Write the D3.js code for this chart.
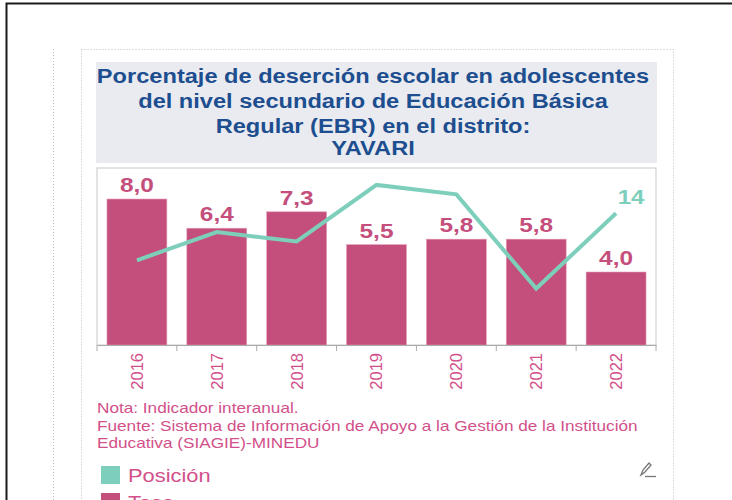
<!DOCTYPE html>
<html>
<head>
<meta charset="utf-8">
<script src="https://cdn.jsdelivr.net/npm/d3@7"></script>
<style>
  body { margin: 0; background: #fff; }
  svg { display: block; font-family: "Liberation Sans", Arial, sans-serif; }
</style>
</head>
<body>
<div id="chart"></div>
<script>
const years = ["2016", "2017", "2018", "2019", "2020", "2021", "2022"];
const tasa = [8.0, 6.4, 7.3, 5.5, 5.8, 5.8, 4.0];
const posicion = [9, 12, 11, 17, 16, 6, 14];
const titleLines = [
  "Porcentaje de deserción escolar en adolescentes",
  "del nivel secundario de Educación Básica",
  "Regular (EBR) en el distrito:",
  "YAVARI"
];
const notes = [
  "Nota: Indicador interanual.",
  "Fuente: Sistema de Información de Apoyo a la Gestión de la Institución",
  "Educativa (SIAGIE)-MINEDU"
];
const legendItems = ["Posición", "Tasa"];

const data = years.map((y, i) => ({year: y, tasa: tasa[i], pos: posicion[i]}));

// the original text is drawn a bit wider than Arial
function stretch(sel, k) {
  sel.each(function() {
    const len = this.getComputedTextLength();
    d3.select(this)
      .attr("textLength", len * k)
      .attr("lengthAdjust", "spacingAndGlyphs");
  });
}

const W = 732, H = 500;
const svg = d3.select("#chart").append("svg")
  .attr("width", W)
  .attr("height", H);

// page frame + dotted containers
svg.append("rect")
  .attr("x", 6.5).attr("y", 3.5)
  .attr("width", 800).attr("height", 600)
  .attr("fill", "none").attr("stroke", "#1a1a1a").attr("stroke-width", 2);
svg.append("line")
  .attr("x1", 53.5).attr("x2", 53.5).attr("y1", 49).attr("y2", H)
  .attr("stroke", "#bbb").attr("stroke-dasharray", "1,2");
svg.append("rect")
  .attr("x", 81.5).attr("y", 49.5)
  .attr("width", 592).attr("height", 600)
  .attr("fill", "none").attr("stroke", "#bbb").attr("stroke-dasharray", "1,2");

// title box
svg.append("rect")
  .attr("x", 96).attr("y", 62)
  .attr("width", 561).attr("height", 101)
  .attr("fill", "#e9ebf0");
svg.append("g").selectAll("text")
  .data(titleLines)
  .join("text")
  .attr("x", 373)
  .attr("y", (d, i) => [83, 108, 133, 155][i])
  .attr("text-anchor", "middle")
  .attr("font-size", 20)
  .attr("font-weight", "bold")
  .attr("fill", "#1d4e8f")
  .text(d => d)
  .call(stretch, 1.18);

// plot
const margin = {top: 168, left: 97, right: 76, bottom: 155};
const width = W - margin.left - margin.right;
const height = H - margin.top - margin.bottom;

const g = svg.append("g")
  .attr("transform", `translate(${margin.left},${margin.top})`);

g.append("rect")
  .attr("x", 0).attr("y", 0)
  .attr("width", width).attr("height", height)
  .attr("fill", "#fff").attr("stroke", "#c8c8c8");

const x = d3.scaleBand()
  .domain(years)
  .range([0, width])
  .paddingInner(0.25)
  .paddingOuter(0.125);

const y = d3.scaleLinear()
  .domain([0, 9.7])
  .range([height, 0]);

const y2 = d3.scaleLinear()
  .domain([0, 18.8])
  .range([height, 0]);

// bars
g.selectAll(".bar")
  .data(data)
  .join("rect")
  .attr("class", "bar")
  .attr("x", d => x(d.year))
  .attr("y", d => y(d.tasa))
  .attr("width", x.bandwidth())
  .attr("height", d => height - y(d.tasa))
  .attr("fill", "#c44e7c")
  .attr("stroke", "#e59ab8")
  .attr("stroke-width", 0.6);

g.selectAll(".bar-label")
  .data(data)
  .join("text")
  .attr("class", "bar-label")
  .attr("x", d => x(d.year) + x.bandwidth() / 2)
  .attr("y", d => y(d.tasa) - 7)
  .attr("text-anchor", "middle")
  .attr("font-size", 20)
  .attr("font-weight", "bold")
  .attr("fill", "#c44e7c")
  .text(d => d.tasa.toFixed(1).replace(".", ","))
  .call(stretch, 1.22);

// line
const line = d3.line()
  .x(d => x(d.year) + x.bandwidth() / 2)
  .y(d => y2(d.pos));

g.append("path")
  .datum(data)
  .attr("d", line)
  .attr("fill", "none")
  .attr("stroke", "#7dcfbc")
  .attr("stroke-width", 4)
  .attr("stroke-linejoin", "miter");

const last = data[data.length - 1];
g.append("text")
  .attr("x", x(last.year) + x.bandwidth() / 2 + 15)
  .attr("y", y2(last.pos) - 9)
  .attr("text-anchor", "middle")
  .attr("font-size", 20)
  .attr("font-weight", "bold")
  .attr("fill", "#7dcfbc")
  .text(last.pos)
  .call(stretch, 1.2);

// x axis
const xAxis = g.append("g")
  .attr("transform", `translate(0,${height})`)
  .call(d3.axisBottom(x).tickSize(0).tickPadding(0));
xAxis.select(".domain").attr("stroke", "#aaa");
xAxis.selectAll("text")
  .attr("transform", "rotate(-90)")
  .attr("x", -8)
  .attr("y", 0)
  .attr("dy", "0.36em")
  .style("text-anchor", "end")
  .attr("font-size", 16.5)
  .attr("font-family", "Liberation Sans, Arial, sans-serif")
  .attr("fill", "#d2508a");
// boundary ticks
g.append("g")
  .selectAll("line")
  .data(d3.range(years.length + 1))
  .join("line")
  .attr("x1", i => i * x.step())
  .attr("x2", i => i * x.step())
  .attr("y1", height)
  .attr("y2", height + 6)
  .attr("stroke", "#aaa");

// notes
svg.append("g").selectAll("text")
  .data(notes)
  .join("text")
  .attr("x", 97)
  .attr("y", (d, i) => 413 + i * 17.5)
  .attr("font-size", 14.5)
  .attr("fill", "#d2508a")
  .text(d => d)
  .call(stretch, 1.185);

// legend
const legend = svg.append("g").attr("transform", "translate(101,466)");
const legColors = ["#7dcfbc", "#c44e7c"];
legendItems.forEach((t, i) => {
  legend.append("rect")
    .attr("x", 0).attr("y", i * 27)
    .attr("width", 19).attr("height", 18)
    .attr("fill", legColors[i]);
  legend.append("text")
    .attr("x", 27).attr("y", i * 27 + 16)
    .attr("font-size", 19)
    .attr("fill", "#d2508a")
    .text(t)
    .call(stretch, 1.15);
});

// pen icon
const pen = svg.append("g")
  .attr("transform", "translate(640,462)")
  .attr("fill", "none")
  .attr("stroke", "#777")
  .attr("stroke-width", 1.3);
pen.append("path").attr("d", "M1,13 L3,8 L9,1 L11,3 L5,10 Z");
pen.append("line").attr("x1", 5).attr("x2", 16).attr("y1", 14.5).attr("y2", 14.5);
</script>
</body>
</html>
